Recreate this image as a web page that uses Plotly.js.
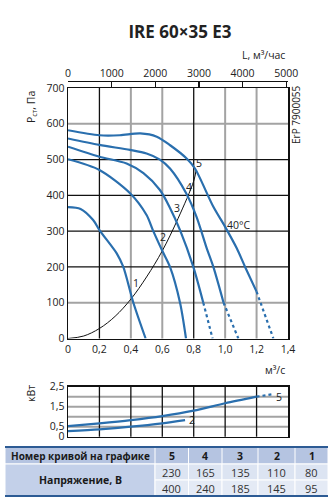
<!DOCTYPE html>
<html><head><meta charset="utf-8">
<script src="https://cdn.plot.ly/plotly-3.0.1.min.js"></script>
<style>html,body{margin:0;padding:0;background:#fff}#c{width:335px;height:499px}</style>
</head><body><div id="c"></div>
<script>
// ---- data ----
const xTickVals = [0, 0.2, 0.4, 0.6, 0.8, 1.0, 1.2, 1.4];
const xTickText = ['0', '0,2', '0,4', '0,6', '0,8', '1,0', '1,2', '1,4'];
const lTickVals = [0, 1000, 2000, 3000, 4000, 5000];
const yTickVals = [0, 100, 200, 300, 400, 500, 600, 700];
const kwTickVals = [0, 0.5, 1.5, 2.5];
const kwTickText = ['0', '0,5', '1,5', '2,5'];

const gridDarkQ = [0.2, 0.8];
const gridLightQ = [0.4, 0.6, 1.0, 1.2];
const gridDarkP = [200, 300, 400, 500];
const gridLightP = [100, 600];
const gridKw = [0.5, 1.0, 1.5, 2.0];

const c1Q = [0, 0.08, 0.16, 0.2, 0.31, 0.352, 0.416, 0.494];
const c1P = [367, 362, 331, 303, 238, 200, 100, 0];
const c2Q = [0, 0.2, 0.395, 0.5, 0.54, 0.6, 0.649, 0.713, 0.751];
const c2P = [501, 471, 406, 345, 303, 245, 200, 100, 0];
const c3Q = [0, 0.2, 0.373, 0.48, 0.585, 0.649, 0.713, 0.797, 0.861];
const c3P = [536, 508, 489, 462, 415, 365, 303, 201, 100];
const c3DashQ = [0.861, 0.92];
const c3DashP = [100, 0];
const c4Q = [0, 0.2, 0.395, 0.5, 0.585, 0.649, 0.752, 0.818, 0.883, 0.925, 0.99];
const c4P = [559, 541, 527, 517, 500, 475, 406, 340, 252, 200, 100];
const c4DashQ = [0.99, 1.084];
const c4DashP = [100, 0];
const c5Q = [0, 0.2, 0.33, 0.46, 0.565, 0.65, 0.755, 0.808, 0.925, 1.0, 1.074, 1.127, 1.2];
const c5P = [582, 568, 568, 573, 564, 540, 503, 475, 368, 312, 252, 200, 131];
const c5DashQ = [1.2, 1.307];
const c5DashP = [131, 0];
const sysQ = [0, 0.1, 0.2, 0.3, 0.4, 0.5, 0.6, 0.7, 0.8, 0.815];
const sysP = [0, 7, 28, 62, 110, 172, 245, 335, 440, 470];

const kw5Q = [0, 0.2, 0.4, 0.6, 0.8, 1.0, 1.2];
const kw5 = [0.53, 0.67, 0.83, 1.03, 1.3, 1.67, 2.0];
const kw5DashQ = [1.2, 1.307];
const kw5Dash = [2.0, 2.13];
const kw2Q = [0, 0.2, 0.4, 0.6, 0.745];
const kw2 = [0.28, 0.37, 0.5, 0.67, 0.83];

const tableHead = 'Номер кривой на графике';
const tableRowLabel = 'Напряжение, В';
const curveNums = ['5', '4', '3', '2', '1'];
const volt1 = ['230', '165', '135', '110', '80'];
const volt2 = ['400', '240', '185', '145', '95'];

// ---- style ----
const BLUE = '#2a6fae';
const FONT = 'Open Sans, Noto Sans, sans-serif';
const W = 335, H = 499;
const px = v => v / W, py = v => 1 - v / H;

function solid(q, p, xa, ya) {
  return {x: q, y: p, xaxis: xa, yaxis: ya, mode: 'lines', hoverinfo: 'skip',
    line: {color: BLUE, width: 2.2, shape: 'spline', smoothing: 0.8}, showlegend: false};
}
function dashed(q, p, xa, ya) {
  return {x: q, y: p, xaxis: xa, yaxis: ya, mode: 'lines', hoverinfo: 'skip',
    line: {color: BLUE, width: 2.2, dash: '3px,3px'}, showlegend: false};
}

const traces = [
  {x: sysQ, y: sysP, mode: 'lines', line: {color: '#111', width: 1, shape: 'spline'}, hoverinfo: 'skip', showlegend: false},
  solid(c1Q, c1P, 'x', 'y'),
  solid(c2Q, c2P, 'x', 'y'),
  solid(c3Q, c3P, 'x', 'y'), dashed(c3DashQ, c3DashP, 'x', 'y'),
  solid(c4Q, c4P, 'x', 'y'), dashed(c4DashQ, c4DashP, 'x', 'y'),
  solid(c5Q, c5P, 'x', 'y'), dashed(c5DashQ, c5DashP, 'x', 'y'),
  solid(kw5Q, kw5, 'x3', 'y3'), dashed(kw5DashQ, kw5Dash, 'x3', 'y3'),
  solid(kw2Q, kw2, 'x3', 'y3'),
  {x: [lTickVals[0]], y: [null], xaxis: 'x2', yaxis: 'y', mode: 'lines', hoverinfo: 'skip', showlegend: false}
];

const shapes = [];
const vline = (v, xa, ya, color, w) => shapes.push({type: 'line', layer: 'below', xref: xa, yref: ya + ' domain', x0: v, x1: v, y0: 0, y1: 1, line: {color, width: w}});
const hline = (v, xa, ya, color, w) => shapes.push({type: 'line', layer: 'below', xref: xa + ' domain', yref: ya, x0: 0, x1: 1, y0: v, y1: v, line: {color, width: w}});
gridLightQ.forEach(v => vline(v, 'x', 'y', '#a3a3a3', 2));
gridLightP.forEach(v => hline(v, 'x', 'y', '#a3a3a3', 2));
gridDarkQ.forEach(v => vline(v, 'x', 'y', '#111', 1.3));
gridDarkP.forEach(v => hline(v, 'x', 'y', '#111', 1.3));
gridKw.forEach(v => hline(v, 'x3', 'y3', '#a3a3a3', 2));
xTickVals.slice(1, -1).forEach(v => vline(v, 'x3', 'y3', '#111', 1.3));

// ---- table drawn with shapes + annotations ----
const tL = 5, tR = 328, colB = [155, 188.5, 222, 258, 295, 328];
const rowB = [447, 464, 480, 496];
const rect = (x0, x1, y0, y1, fill) => shapes.push({type: 'rect', xref: 'paper', yref: 'paper',
  x0: px(x0), x1: px(x1), y0: py(y1), y1: py(y0), fillcolor: fill, line: {color: '#ffffff', width: 1}});
rect(tL, tR, rowB[0], rowB[1], '#b5c4e1');
rect(tL, colB[0], rowB[1], rowB[3], '#c3d0e9');
for (let i = 0; i < 5; i++) {
  rect(colB[i], colB[i + 1], rowB[1], rowB[2], '#dce4f2');
  rect(colB[i], colB[i + 1], rowB[2], rowB[3], '#e4eaf5');
  shapes.push({type: 'line', xref: 'paper', yref: 'paper', x0: px(colB[i]), x1: px(colB[i]), y0: py(rowB[0]), y1: py(rowB[1]), line: {color: '#ffffff', width: 1}});
}
shapes.push({type: 'line', xref: 'paper', yref: 'paper', x0: px(tL), x1: px(tR), y0: py(rowB[0]), y1: py(rowB[0]), line: {color: '#2d5b94', width: 2}});
shapes.push({type: 'line', xref: 'paper', yref: 'paper', x0: px(tL), x1: px(tR), y0: py(rowB[3]), y1: py(rowB[3]), line: {color: '#2d5b94', width: 2}});

const ann = (text, x, y, xref, yref, extra) => Object.assign({text, x, y, xref, yref, showarrow: false,
  xanchor: 'center', yanchor: 'middle', font: {family: FONT, size: 10.5, color: '#222'}}, extra || {});

const annotations = [
  ann('L, м³/час', px(287), py(55), 'paper', 'paper', {xanchor: 'right'}),
  ann('м³/с', px(287), py(370), 'paper', 'paper', {xanchor: 'right'}),
  ann('P<sub>ст</sub>, Па', px(31), py(107), 'paper', 'paper', {textangle: -90}),
  ann('кВт', px(31), py(394), 'paper', 'paper', {textangle: -90}),
  ann('ErP 7900055', px(296), py(115), 'paper', 'paper', {textangle: -90, font: {family: FONT, size: 10, color: '#222'}}),
  ann('40°C', 1.085, 317, 'x', 'y'),
  ann('5', 0.835, 490, 'x', 'y'),
  ann('4', 0.767, 423, 'x', 'y'),
  ann('3', 0.696, 364, 'x', 'y'),
  ann('2', 0.607, 284, 'x', 'y'),
  ann('1', 0.435, 155, 'x', 'y'),
  ann('5', 1.34, 2.0, 'x3', 'y3'),
  ann('2', 0.79, 0.83, 'x3', 'y3'),
  ann('<b>' + tableHead + '</b>', px((tL + colB[0]) / 2), py((rowB[0] + rowB[1]) / 2), 'paper', 'paper', {font: {family: FONT, size: 10, color: '#1a1a1a'}}),
  ann('<b>' + tableRowLabel + '</b>', px((tL + colB[0]) / 2), py(rowB[2]), 'paper', 'paper', {font: {family: FONT, size: 10.5, color: '#1a1a1a'}})
];
for (let i = 0; i < 5; i++) {
  const cx = px((colB[i] + colB[i + 1]) / 2);
  annotations.push(ann('<b>' + curveNums[i] + '</b>', cx, py((rowB[0] + rowB[1]) / 2), 'paper', 'paper', {font: {family: FONT, size: 10.5, color: '#1a1a1a'}}));
  annotations.push(ann(volt1[i], cx, py((rowB[1] + rowB[2]) / 2), 'paper', 'paper', {font: {family: FONT, size: 11, color: '#333'}}));
  annotations.push(ann(volt2[i], cx, py((rowB[2] + rowB[3]) / 2), 'paper', 'paper', {font: {family: FONT, size: 11, color: '#333'}}));
}

const axBase = {showgrid: false, showline: true, linecolor: '#111', linewidth: 1.5, mirror: true, ticks: '', zeroline: false};
const layout = {
  width: W, height: H, margin: {l: 0, r: 0, t: 0, b: 0},
  paper_bgcolor: '#fff', plot_bgcolor: '#fff',
  font: {family: FONT, size: 10.5, color: '#222'},
  title: {text: '<b>IRE 60×35 E3</b>', x: px(180), y: py(32), xanchor: 'center', yanchor: 'middle',
    font: {family: FONT, size: 17, color: '#222'}},
  xaxis: Object.assign({}, axBase, {domain: [px(68), px(288)], range: [0, 1.4], tickvals: xTickVals, ticktext: xTickText, anchor: 'y'}),
  xaxis2: {overlaying: 'x', side: 'top', anchor: 'free', position: py(81), range: [0, 5040],
    tickvals: lTickVals, ticks: 'inside', ticklen: 6, tickcolor: '#111', tickwidth: 1.3,
    showline: true, linecolor: '#111', linewidth: 1.3, showgrid: false, zeroline: false},
  yaxis: Object.assign({}, axBase, {domain: [py(338.5), py(88)], range: [0, 700], tickvals: yTickVals, anchor: 'x'}),
  xaxis3: Object.assign({}, axBase, {domain: [px(68), px(288)], range: [0, 1.4], showticklabels: false, anchor: 'y3'}),
  yaxis3: Object.assign({}, axBase, {domain: [py(436.7), py(386.7)], range: [0, 2.5], tickvals: kwTickVals, ticktext: kwTickText, anchor: 'x3'}),
  shapes: shapes,
  annotations: annotations
};
Plotly.newPlot('c', traces, layout, {staticPlot: true, displayModeBar: false});
</script></body></html>
